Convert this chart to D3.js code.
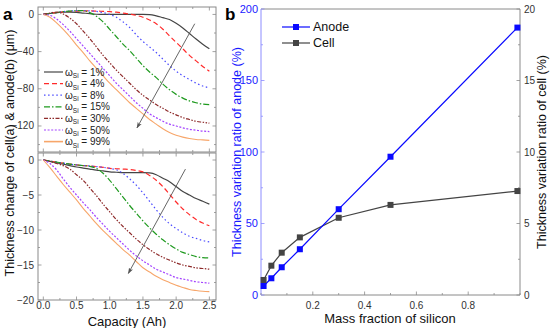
<!DOCTYPE html>
<html><head><meta charset="utf-8">
<script src="https://cdn.jsdelivr.net/npm/d3@7"></script>
<style>body{margin:0;background:#fff}svg{display:block;font-family:"Liberation Sans",Arial,sans-serif}</style>
</head><body><svg id="c" width="550" height="328"></svg>
<script>
// ---------- DATA ----------
const capacity = [0,0.1,0.2,0.3,0.4,0.5,0.6,0.7,0.8,0.9,1.0,1.1,1.2,1.3,1.4,1.5,1.6,1.7,1.8,1.9,2.0,2.1,2.2,2.3,2.4,2.5];
const seriesNames = ["1%","4%","8%","15%","30%","50%","99%"];
// anode thickness change (um), panel a top
const anode1  = [0,1,2,2.5,2.5,2.2,1.5,0.8,0.2,0,0,0,0,0,0,0,-0.2,-1.5,-3.5,-5.5,-9.5,-14.5,-20.5,-26.5,-32,-37];
const anode4  = [0,1,2,2.8,3.3,3.6,3.8,3.8,3.6,3.3,3,2.4,1.5,0.3,-1,-3,-6,-10,-16,-23,-30,-37,-44,-50,-56,-61];
const anode8  = [0,1,2,3,3.6,4,4,3.8,3.2,2,0,-3,-8,-14,-22,-29,-35,-41,-48,-55,-61,-66,-70,-74,-77,-79];
const anode15 = [0,1,2,3,3.6,4,4,2,-2,-8,-16,-24,-32,-39,-47,-55,-62,-68,-75,-81,-86,-90,-93,-95,-96.5,-97];
const anode30 = [0,1.5,2.5,0.5,-4,-10,-18,-26,-35,-44,-52,-60,-67,-74,-81,-87,-92,-97,-101,-105,-108,-111,-113,-115,-116,-117];
const anode50 = [0,-1,-5,-11,-18,-26,-34,-42,-50,-58,-66,-74,-81,-88,-95,-101,-107,-111,-115,-118,-120,-122,-123.5,-124.5,-125.5,-126];
const anode99 = [0,-3,-9,-16,-24,-33,-41,-50,-58,-66,-74,-81,-88,-95,-101,-107,-113,-118,-123,-127,-130,-132,-133.5,-134.5,-135,-135.5];
// cell thickness change (um), panel a bottom
const cell1  = [0,-0.2,-0.4,-0.6,-0.8,-1.0,-1.15,-1.3,-1.45,-1.55,-1.7,-1.75,-1.8,-1.8,-1.8,-1.8,-1.85,-2.1,-2.6,-3.1,-3.8,-4.5,-5.0,-5.5,-5.9,-6.3];
const cell4  = [0,-0.15,-0.3,-0.45,-0.6,-0.7,-0.8,-0.85,-0.95,-1.05,-1.2,-1.25,-1.3,-1.35,-1.5,-1.7,-2.2,-2.9,-3.8,-4.9,-6.0,-7.0,-7.8,-8.5,-9.0,-9.4];
const cell8  = [0,-0.15,-0.3,-0.45,-0.6,-0.7,-0.8,-0.85,-0.95,-1.05,-1.2,-1.4,-1.9,-2.7,-3.6,-4.7,-5.9,-7.1,-8.2,-9.1,-9.8,-10.4,-10.9,-11.2,-11.5,-11.7];
const cell15 = [0,-0.15,-0.3,-0.45,-0.6,-0.7,-0.8,-0.9,-1.2,-1.9,-2.9,-4.1,-5.3,-6.5,-7.6,-8.7,-9.7,-10.6,-11.4,-12.1,-12.7,-13.2,-13.5,-13.8,-13.95,-14.0];
const cell30 = [0,-0.2,-0.5,-0.8,-1.3,-2.1,-2.9,-4.0,-5.1,-6.3,-7.4,-8.5,-9.5,-10.4,-11.3,-12.1,-12.8,-13.4,-13.9,-14.3,-14.7,-15.0,-15.2,-15.4,-15.5,-15.6];
const cell50 = [0,-0.5,-1.4,-2.7,-3.9,-5.0,-6.1,-7.1,-8.2,-9.2,-10.2,-11.1,-12.0,-12.9,-13.7,-14.4,-15.0,-15.6,-16.0,-16.4,-16.8,-17.0,-17.2,-17.4,-17.5,-17.6];
const cell99 = [0,-1.1,-2.3,-3.5,-4.6,-5.7,-6.9,-8.0,-9.1,-10.1,-11.0,-11.9,-12.8,-13.6,-14.5,-15.4,-16.0,-16.6,-17.1,-17.5,-17.9,-18.2,-18.5,-18.65,-18.75,-18.8];
// panel b
const massFraction = [0.01,0.04,0.08,0.15,0.30,0.50,0.99];
const anodeRatio = [6.3,11.7,19.4,32,60,96.7,187];
const cellRatio  = [1.05,2.05,2.96,4.03,5.4,6.3,7.27];
const aTopTicks = [0,-40,-80,-120];
const aBotTicks = [0,-5,-10,-15,-20];
const capTicks = [0,0.5,1,1.5,2,2.5];
const bXTicks = [0.2,0.4,0.6,0.8];
const bLeftTicks = [0,50,100,150,200];
const bRightTicks = [0,5,10,15,20];

// ---------- STYLE ----------
const colors = ["#454545","#ff2a2a","#4a4aff","#1f9a1f","#8e2b2b","#a444ff","#f7a66a"];
const dashes = [null,"5,3","1.5,2.6","6,2,1.5,2","4,1.5,1.5,1.5,1.5,1.5","2,1.6",null];
const anodeSeries = [anode1,anode4,anode8,anode15,anode30,anode50,anode99];
const cellSeries = [cell1,cell4,cell8,cell15,cell30,cell50,cell99];

const svg = d3.select("#c");
const frameCol = "#8a8a8a", tickTxt = "#333";

// ----- panel a -----
const x = d3.scaleLinear().domain([-0.08,2.6]).range([38,216]);
const yTop = d3.scaleLinear().domain([-148,8]).range([152,7]);
const yBot = d3.scaleLinear().domain([-20,1]).range([300,153]);

function frame(y){
  svg.append("rect").attr("x",x.range()[0]).attr("y",y.range()[1]).attr("width",x.range()[1]-x.range()[0])
   .attr("height",y.range()[0]-y.range()[1]).attr("fill","none").attr("stroke",frameCol).attr("stroke-width",1);
}
function ticksA(y, major, minorStep){
  const g = svg.append("g").attr("stroke",frameCol).attr("stroke-width",0.8);
  const [y0,y1] = y.domain();
  const minors = d3.range(Math.ceil(y0/minorStep)*minorStep, y1+1e-9, minorStep);
  minors.forEach(v=>{
    const isMaj = major.includes(v);
    const L = isMaj?3.5:2;
    g.append("line").attr("x1",x.range()[0]).attr("x2",x.range()[0]+L).attr("y1",y(v)).attr("y2",y(v));
    g.append("line").attr("x1",x.range()[1]).attr("x2",x.range()[1]-L).attr("y1",y(v)).attr("y2",y(v));
  });
  major.forEach(v=>{
    svg.append("text").attr("x",x.range()[0]-4).attr("y",y(v)).attr("dy","0.35em").attr("text-anchor","end")
      .attr("font-size",10).attr("fill",tickTxt).text(v===0?"0":"\u2212"+Math.abs(v));
  });
  d3.range(0,2.51,0.25).forEach(v=>{
    const isMaj = Math.abs(v*2-Math.round(v*2))<1e-6;
    const L = isMaj?3.5:2;
    g.append("line").attr("x1",x(v)).attr("x2",x(v)).attr("y1",y.range()[1]).attr("y2",y.range()[1]+L);
    g.append("line").attr("x1",x(v)).attr("x2",x(v)).attr("y1",y.range()[0]).attr("y2",y.range()[0]-L);
  });
}
frame(yTop); frame(yBot);
ticksA(yTop, aTopTicks, 20);
ticksA(yBot, aBotTicks, 2.5);
capTicks.forEach(v=>{
  svg.append("text").attr("x",x(v)).attr("y",305.5).attr("dy","0.35em").attr("text-anchor","middle")
    .attr("font-size",10).attr("fill",tickTxt).text(v.toFixed(1));
});
svg.append("text").attr("x",127).attr("y",326).attr("text-anchor","middle").attr("font-size",13).attr("fill","#111").text("Capacity (Ah)");
svg.append("text").attr("transform","translate(14,153) rotate(-90)").attr("text-anchor","middle")
  .attr("font-size",12.5).attr("fill","#111").text("Thickness change of cell(a) & anode(b) (\u03bcm)");

function drawLines(series, y, clipId){
  svg.append("clipPath").attr("id",clipId).append("rect").attr("x",x.range()[0]).attr("y",y.range()[1])
    .attr("width",x.range()[1]-x.range()[0]).attr("height",y.range()[0]-y.range()[1]);
  const line = d3.line().x((d,i)=>x(capacity[i])).y(d=>y(d)).curve(d3.curveMonotoneX);
  const g = svg.append("g").attr("clip-path",`url(#${clipId})`);
  series.forEach((s,i)=>{
    g.append("path").datum(s).attr("d",line).attr("fill","none").attr("stroke",colors[i])
      .attr("stroke-width",i===6?1.1:1.2).attr("stroke-dasharray",dashes[i]);
  });
}
drawLines(anodeSeries, yTop, "clipTop");
drawLines(cellSeries, yBot, "clipBot");

// arrows
const defs = svg.append("defs");
defs.append("marker").attr("id","ah").attr("viewBox","0 0 10 10").attr("refX",9).attr("refY",5)
  .attr("markerWidth",7).attr("markerHeight",7).attr("orient","auto")
  .append("path").attr("d","M0,1.5 L10,5 L0,8.5 L2.5,5 Z").attr("fill","#555");
[[[2.28,-10],[1.41,-122]],[[2.14,-1.3],[1.28,-16.2]]].forEach((a,k)=>{
  const y = k===0?yTop:yBot;
  svg.append("line").attr("x1",x(a[0][0])).attr("y1",y(a[0][1])).attr("x2",x(a[1][0])).attr("y2",y(a[1][1]))
    .attr("stroke","#555").attr("stroke-width",0.9).attr("marker-end","url(#ah)");
});

// legend a
const lg = svg.append("g");
seriesNames.forEach((n,i)=>{
  const yy = 72 + i*11.6;
  lg.append("line").attr("x1",44).attr("x2",63).attr("y1",yy).attr("y2",yy).attr("stroke",colors[i])
    .attr("stroke-width",i===6?1.6:1.2).attr("stroke-dasharray",dashes[i]);
  const t = lg.append("text").attr("x",65).attr("y",yy).attr("dy","0.35em").attr("font-size",10).attr("fill","#222");
  t.append("tspan").text("\u03c9");
  t.append("tspan").attr("font-size",6.5).attr("dy","2.5").text("Si");
  t.append("tspan").attr("dy","-2.5").text(" = "+n);
});

// ----- panel b -----
const xb = d3.scaleLinear().domain([0,1]).range([261,520]);
const yl = d3.scaleLinear().domain([0,200]).range([295,9]);
const yr = d3.scaleLinear().domain([0,20]).range([295,9]);
svg.append("line").attr("x1",261).attr("x2",520).attr("y1",9).attr("y2",9).attr("stroke",frameCol);
svg.append("line").attr("x1",261).attr("x2",520).attr("y1",295).attr("y2",295).attr("stroke",frameCol);
svg.append("line").attr("x1",520).attr("x2",520).attr("y1",9).attr("y2",295).attr("stroke",frameCol);
svg.append("line").attr("x1",261).attr("x2",261).attr("y1",9).attr("y2",295).attr("stroke","#8c8cff");
const tb = svg.append("g").attr("stroke-width",0.8);
d3.range(0,1.0001,0.1).forEach(v=>{
  const maj = bXTicks.includes(+v.toFixed(1));
  tb.append("line").attr("x1",xb(v)).attr("x2",xb(v)).attr("y1",295).attr("y2",295-(maj?3.5:2)).attr("stroke",frameCol);
});
d3.range(0,200.1,25).forEach(v=>{
  const maj = bLeftTicks.includes(v);
  tb.append("line").attr("x1",261).attr("x2",261+(maj?3.5:2)).attr("y1",yl(v)).attr("y2",yl(v)).attr("stroke","#8c8cff");
});
d3.range(0,20.1,2.5).forEach(v=>{
  const maj = bRightTicks.includes(v);
  tb.append("line").attr("x1",520).attr("x2",520-(maj?3.5:2)).attr("y1",yr(v)).attr("y2",yr(v)).attr("stroke",frameCol);
});
bXTicks.forEach(v=>svg.append("text").attr("x",xb(v)).attr("y",305).attr("dy","0.35em").attr("text-anchor","middle")
  .attr("font-size",10).attr("fill",tickTxt).text(v.toFixed(1)));
bLeftTicks.forEach(v=>svg.append("text").attr("x",258).attr("y",yl(v)).attr("dy","0.35em").attr("text-anchor","end")
  .attr("font-size",11).attr("fill","#1a1aff").text(v));
bRightTicks.forEach(v=>svg.append("text").attr("x",524).attr("y",yr(v)).attr("dy","0.35em").attr("text-anchor","start")
  .attr("font-size",10).attr("fill",tickTxt).text(v));
svg.append("text").attr("x",390).attr("y",323).attr("text-anchor","middle").attr("font-size",13).attr("fill","#111").text("Mass fraction of silicon");
svg.append("text").attr("transform","translate(241,152) rotate(-90)").attr("text-anchor","middle")
  .attr("font-size",12.5).attr("fill","#1a1aff").text("Thickness variation ratio of anode (%)");
svg.append("text").attr("transform","translate(546,152) rotate(-90)").attr("text-anchor","middle")
  .attr("font-size",12.5).attr("fill","#111").text("Thickness variation ratio of cell (%)");

const lineA = d3.line().x((d,i)=>xb(massFraction[i])).y(d=>yl(d));
const lineC = d3.line().x((d,i)=>xb(massFraction[i])).y(d=>yr(d));
svg.append("path").datum(cellRatio).attr("d",lineC).attr("fill","none").attr("stroke","#444").attr("stroke-width",1.2);
svg.append("path").datum(anodeRatio).attr("d",lineA).attr("fill","none").attr("stroke","#0a0aff").attr("stroke-width",1.2);
svg.selectAll(".mc").data(cellRatio).join("rect").attr("x",(d,i)=>xb(massFraction[i])-3).attr("y",d=>yr(d)-3)
  .attr("width",6).attr("height",6).attr("fill","#444");
svg.selectAll(".ma").data(anodeRatio).join("rect").attr("x",(d,i)=>xb(massFraction[i])-3).attr("y",d=>yl(d)-3)
  .attr("width",6).attr("height",6).attr("fill","#0a0aff");
[["Anode","#0a0aff",27],["Cell","#444",43]].forEach(([n,c,yy])=>{
  svg.append("line").attr("x1",282).attr("x2",310).attr("y1",yy).attr("y2",yy).attr("stroke",c).attr("stroke-width",1.2);
  svg.append("rect").attr("x",293).attr("y",yy-3).attr("width",6).attr("height",6).attr("fill",c);
  svg.append("text").attr("x",313).attr("y",yy).attr("dy","0.35em").attr("font-size",12.5).attr("fill","#111").text(n);
});
svg.append("text").attr("x",3).attr("y",20).attr("font-size",17).attr("font-weight","bold").text("a");
svg.append("text").attr("x",225).attr("y",20).attr("font-size",17).attr("font-weight","bold").text("b");
</script></body></html>
